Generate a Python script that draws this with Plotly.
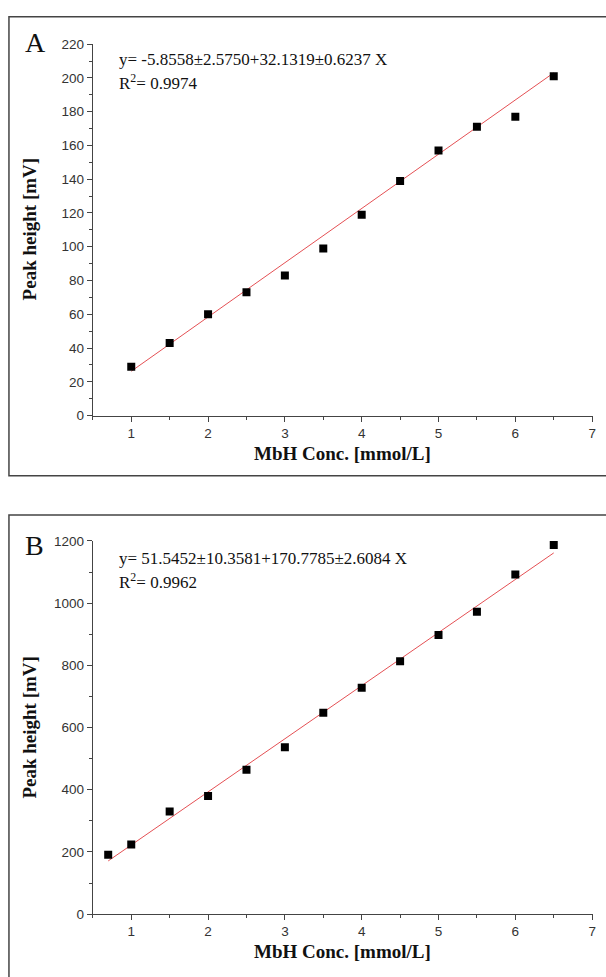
import plotly.graph_objects as go

W, H = 606, 977

# ---- data ----
conc_a = [1, 1.5, 2, 2.5, 3, 3.5, 4, 4.5, 5, 5.5, 6, 6.5]
peak_a = [29, 43, 60, 73, 83, 99, 119, 139, 157, 171, 177, 201]
fit_a_intercept, fit_a_slope = -5.8558, 32.1319
eq_a = "y= -5.8558±2.5750+32.1319±0.6237 X"
r2_a = "R<sup>2</sup>= 0.9974"

conc_b = [0.7, 1, 1.5, 2, 2.5, 3, 3.5, 4, 4.5, 5, 5.5, 6, 6.5]
peak_b = [191, 224, 330, 380, 464, 537, 648, 728, 813, 898, 972, 1092, 1187]
fit_b_intercept, fit_b_slope = 51.5452, 170.7785
eq_b = "y= 51.5452±10.3581+170.7785±2.6084 X"
r2_b = "R<sup>2</sup>= 0.9962"

x_title = "MbH Conc. [mmol/L]"
y_title = "Peak height [mV]"
x_ticks = [1, 2, 3, 4, 5, 6, 7]


def px(x):
    return x / W


def py(y):
    return 1 - y / H


fig = go.Figure()

marker = dict(symbol="square", size=8, color="black")
line_style = dict(color="rgb(228,80,84)", width=1)

fit_xa = [min(conc_a), max(conc_a)]
fig.add_trace(go.Scatter(x=fit_xa, y=[fit_a_intercept + fit_a_slope * v for v in fit_xa],
                         mode="lines", line=line_style, xaxis="x", yaxis="y", showlegend=False))
fig.add_trace(go.Scatter(x=conc_a, y=peak_a, mode="markers", marker=marker,
                         xaxis="x", yaxis="y", showlegend=False))

fit_xb = [min(conc_b), max(conc_b)]
fig.add_trace(go.Scatter(x=fit_xb, y=[fit_b_intercept + fit_b_slope * v for v in fit_xb],
                         mode="lines", line=line_style, xaxis="x2", yaxis="y2", showlegend=False))
fig.add_trace(go.Scatter(x=conc_b, y=peak_b, mode="markers", marker=marker,
                         xaxis="x2", yaxis="y2", showlegend=False))

axis_common = dict(showline=True, linecolor="#444", linewidth=1.2, ticks="outside",
                   ticklen=5, tickwidth=1.2, tickcolor="#444", showgrid=False, zeroline=False,
                   tickfont=dict(family="Liberation Sans, Arial", size=13.5, color="#333"))

x_per_unit = 77.2
x_left = 93.3
x_range = [0.5, 7.005]
xdom = [px(x_left), px(x_left + (x_range[1] - x_range[0]) * x_per_unit)]
ydom_a = [py(415), py(37.7)]
ydom_b = [py(921.3), py(542.3)]

xminor = dict(dtick=0.5, tick0=0, ticks="outside", ticklen=3, tickcolor="#444")

fig.update_layout(
    width=W, height=H,
    margin=dict(l=0, r=0, t=0, b=0),
    paper_bgcolor="white", plot_bgcolor="white",
    xaxis=dict(domain=xdom, range=x_range, tickmode="array", tickvals=x_ticks,
               ticktext=[str(v) for v in x_ticks], anchor="y", minor=xminor,
               ticklabeloverflow="allow", **axis_common),
    yaxis=dict(domain=ydom_a, range=[0, 220], dtick=20, tick0=0, anchor="x",
               minor=dict(dtick=10, tick0=0, ticks="outside", ticklen=3, tickcolor="#444"),
               **axis_common),
    xaxis2=dict(domain=xdom, range=x_range, tickmode="array", tickvals=x_ticks,
                ticktext=[str(v) for v in x_ticks], anchor="y2", minor=xminor,
                ticklabeloverflow="allow", **axis_common),
    yaxis2=dict(domain=ydom_b, range=[0, 1200], dtick=200, tick0=0, anchor="x2",
                minor=dict(dtick=100, tick0=0, ticks="outside", ticklen=3, tickcolor="#444"),
                **axis_common),
)

serif = "Liberation Serif, Times New Roman, serif"
annots = []


def add_text(text, x, y, size, bold=False, xanchor="left", angle=0):
    annots.append(dict(text=("<b>%s</b>" % text) if bold else text, x=px(x), y=py(y),
                       xref="paper", yref="paper", xanchor=xanchor, yanchor="middle",
                       showarrow=False, textangle=angle,
                       font=dict(family=serif, size=size, color="#111")))


# panel A
add_text("A", 36, 36, 28, xanchor="center")
add_text(eq_a, 118, 53, 17)
add_text(r2_a, 118, 76, 17)
add_text(x_title, 344, 453, 19, bold=True, xanchor="center")
add_text(y_title, 30, 226, 19, bold=True, xanchor="center", angle=-90)

# panel B
add_text("B", 35, 547, 28, xanchor="center")
add_text(eq_b, 118, 560, 17)
add_text(r2_b, 118, 583, 17)
add_text(x_title, 344, 959, 19, bold=True, xanchor="center")
add_text(y_title, 30, 732, 19, bold=True, xanchor="center", angle=-90)

fig.update_layout(annotations=annots)

# panel frames
fig.add_shape(type="rect", xref="paper", yref="paper",
              x0=px(9), x1=px(620), y0=py(476), y1=py(10),
              line=dict(color="#444", width=1.5))
fig.add_shape(type="rect", xref="paper", yref="paper",
              x0=px(9), x1=px(620), y0=py(1000), y1=py(516),
              line=dict(color="#444", width=1.5))

fig.write_html("out.html", config={"displayModeBar": False},
               post_script="document.body.style.margin='0';document.body.style.overflow='hidden';")
